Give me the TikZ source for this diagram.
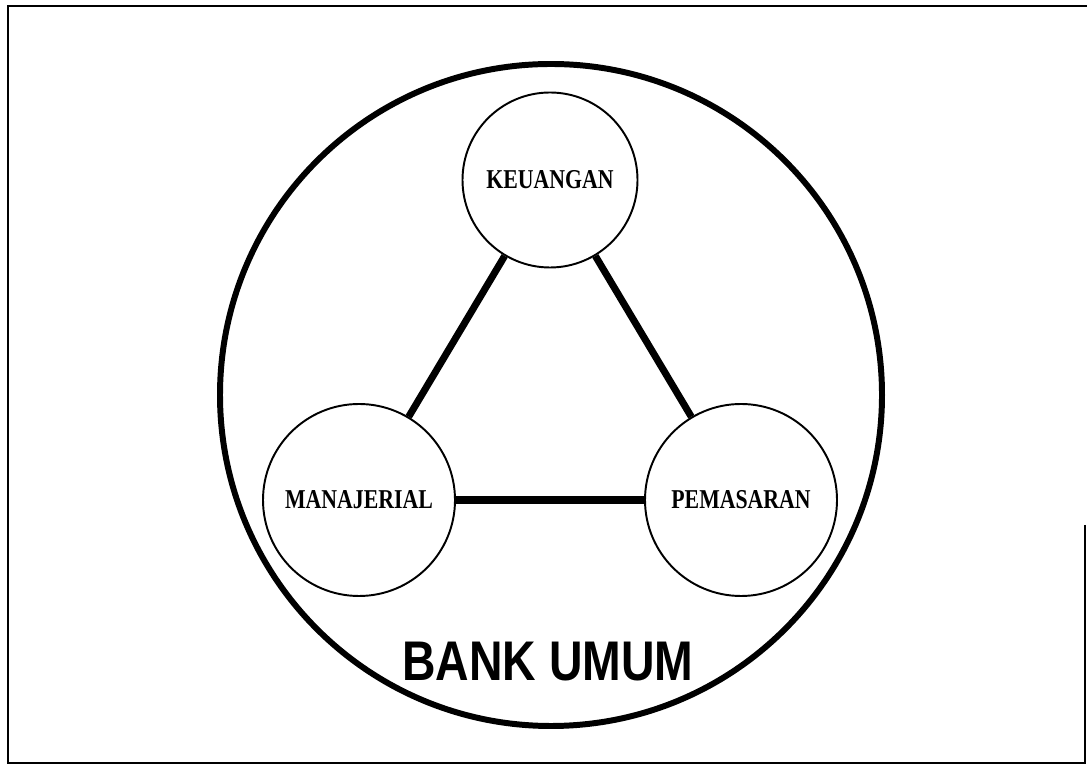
\documentclass[tikz,border=0pt]{standalone}
\usepackage{fontspec}
\setmainfont{Liberation Serif}
\newfontfamily\bidangfont[FakeStretch=0.8]{Liberation Serif}
\newfontfamily\judulfont[FakeStretch=0.83]{Liberation Sans}

\begin{document}
\begin{tikzpicture}[
		bidang/.style={draw, circle, line width=1.1pt, inner sep=0pt, minimum size=#1,
			font=\bidangfont\bfseries\fontsize{15.5}{16}\selectfont},
		garis/.style={line width=4pt}
	]
			\useasboundingbox (0,0) rectangle (21.74,15.30);
			
			% rahmen
			\draw[line width=1.6pt] (21.70,4.80) -- (21.70,0.04) -- (0.16,0.04) -- (0.16,15.18) -- (21.74,15.18);
			
			% bank
			\node[draw, circle, line width=3.4pt, minimum size=13.24cm] (bank) at (11.02,7.40) {};
			
			% bidang
			\node[bidang=3.5cm] (keuangan) at (11.00,11.70) {KEUANGAN};
			\node[bidang=3.84cm] (manajerial) at (7.18,5.30) {MANAJERIAL};
			\node[bidang=3.84cm] (pemasaran) at (14.82,5.30) {PEMASARAN};
			
			% garis
			\draw[garis] (keuangan) -- (manajerial);
			\draw[garis] (keuangan) -- (pemasaran);
			\draw[garis] (manajerial) -- (pemasaran);
			
			% judul
			\node[font=\judulfont\bfseries\fontsize{31.8}{32}\selectfont] (judul) at (10.96,2.06) {BANK UMUM};
			
		\end{tikzpicture}
\end{document}
